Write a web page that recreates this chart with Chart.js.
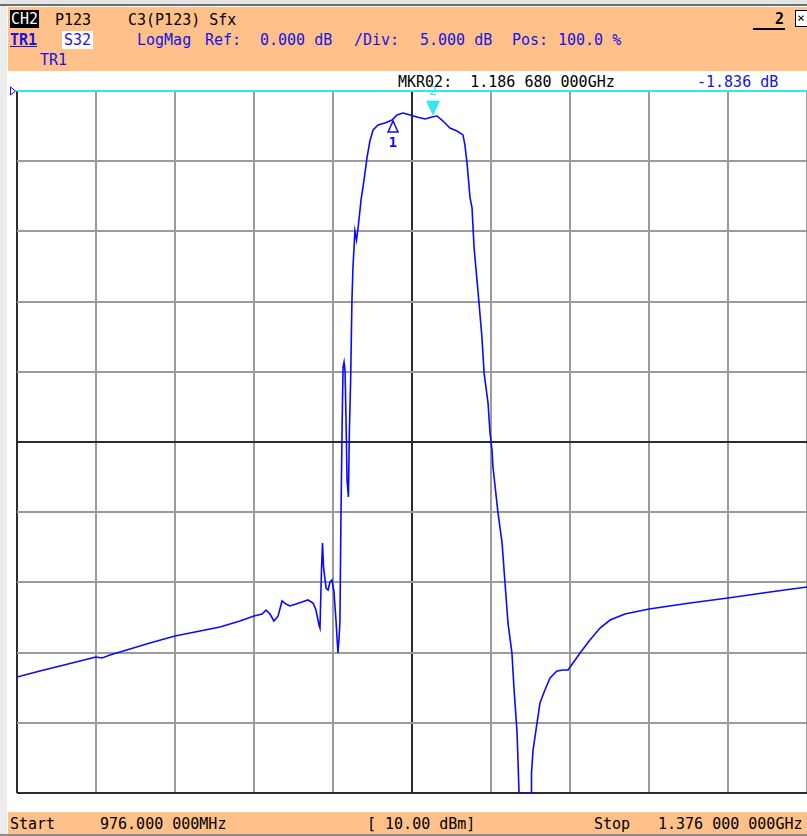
<!DOCTYPE html>
<html>
<head>
<meta charset="utf-8">
<script src="https://cdn.jsdelivr.net/npm/chart.js@4/dist/chart.umd.min.js"></script>
<style>
  html, body { margin: 0; padding: 0; background: #fff; }
  #screen { position: relative; width: 807px; height: 836px; overflow: hidden; background: #fff;
            font-family: "DejaVu Sans Mono", "Liberation Mono", monospace; font-size: 15px; }
  .band { position: absolute; background: #FFC08A; }
  .t { position: absolute; line-height: 18px; white-space: pre; }
  .blue { color: #1414E6; }
  .black { color: #000; }
  #chart { position: absolute; left: 0; top: 0; }
</style>
</head>
<body>
<div id="screen">
  <div style="position:absolute;left:0;top:0;width:807px;height:4px;background:#e6e6e6"></div>
  <div style="position:absolute;left:0;top:4px;width:807px;height:2px;background:#6e6e6e"></div>
  <div style="position:absolute;left:0;top:6px;width:7px;height:830px;background:#ececec"></div>
  <div class="band" style="left:8px;top:7px;width:799px;height:64px"></div>
  <div class="band" style="left:8px;top:812px;width:799px;height:22px"></div>
  <div style="position:absolute;left:0;top:834px;width:807px;height:2px;background:#8a8a8a"></div>

  <!-- header row 1 -->
  <div class="t" style="left:10px;top:10px;background:#000;color:#fff;padding:0 1px">CH2</div>
  <div class="t black" style="left:55px;top:11px">P123</div>
  <div class="t black" style="left:128px;top:11px">C3(P123) Sfx</div>
  <div class="t black" style="left:775px;top:10px;font-weight:bold">2</div>
  <div style="position:absolute;left:753px;top:28px;width:32px;height:2px;background:#000"></div>
  <div style="position:absolute;left:795px;top:10px;width:14px;height:17px;border:1px solid #000;box-sizing:border-box;background:#fff"></div>
  <div class="t black" style="left:797px;top:9px;font-size:13px">×</div>

  <!-- header row 2 -->
  <div class="t blue" style="left:10px;top:31px;font-weight:bold;text-decoration:underline">TR1</div>
  <div class="t blue" style="left:62px;top:31px;background:#fff;padding:0 2px">S32</div>
  <div class="t blue" style="left:137px;top:31px">LogMag</div>
  <div class="t blue" style="left:205px;top:31px">Ref:</div>
  <div class="t blue" style="left:260px;top:31px">0.000 dB</div>
  <div class="t blue" style="left:354px;top:31px">/Div:</div>
  <div class="t blue" style="left:420px;top:31px">5.000 dB</div>
  <div class="t blue" style="left:512px;top:31px">Pos:</div>
  <div class="t blue" style="left:558px;top:31px">100.0 %</div>
  <!-- header row 3 -->
  <div class="t blue" style="left:40px;top:51px">TR1</div>

  <!-- marker readout -->
  <div class="t black" style="left:398px;top:73px">MKR02:  1.186 680 000GHz</div>
  <div class="t blue" style="left:697px;top:73px">-1.836 dB</div>

  <!-- footer -->
  <div class="t black" style="left:10px;top:815px">Start</div>
  <div class="t black" style="left:100px;top:815px">976.000 000MHz</div>
  <div class="t black" style="left:367px;top:815px">[ 10.00 dBm]</div>
  <div class="t black" style="left:594px;top:815px">Stop</div>
  <div class="t black" style="left:658px;top:815px">1.376 000 000GHz</div>

  <canvas id="chart" width="807" height="836"></canvas>
</div>

<script>
// sweep: 976 MHz .. 1376 MHz, LogMag, 5 dB/div, ref 0 dB at top
const startMHz = 976;
const stopMHz = 1376;
const refDb = 0;
const bottomDb = -50;

// S32 trace (MHz, dB)
const freqMHz = [
  976.0, 987.6, 997.8, 1007.9, 1016.0, 1019.0, 1023.1, 1033.2, 1043.3, 1056.0,
  1068.7, 1078.8, 1088.9, 1096.0, 1100.1, 1102.1, 1104.1, 1106.1, 1108.2, 1110.2,
  1112.2, 1114.2, 1117.3, 1120.3, 1123.3, 1125.9, 1127.4, 1128.9, 1129.4, 1130.2,
  1130.7, 1131.2, 1132.5, 1133.5, 1134.5, 1135.5, 1136.5, 1137.5, 1138.5, 1139.0,
  1139.5, 1140.0, 1140.6, 1141.1, 1141.6, 1142.1, 1142.6, 1143.1, 1143.8, 1144.3,
  1144.9, 1145.6, 1146.1, 1147.1, 1147.9, 1148.7, 1150.2, 1151.7, 1153.2, 1154.7,
  1156.3, 1158.8, 1162.3, 1165.9, 1168.4, 1171.4, 1175.0, 1178.5, 1182.6, 1186.6,
  1188.7, 1191.7, 1195.2, 1198.8, 1201.8, 1202.8, 1203.8, 1205.4, 1206.4, 1207.4,
  1208.9, 1209.9, 1211.4, 1212.5, 1214.5, 1215.5, 1216.5, 1217.0, 1219.5, 1221.6,
  1223.1, 1224.6, 1226.6, 1227.6, 1229.2, 1230.2, 1236.3, 1236.5, 1237.3, 1239.3,
  1240.8, 1243.3, 1245.9, 1249.4, 1252.5, 1255.0, 1257.5, 1261.1, 1266.1, 1271.2,
  1276.3, 1283.8, 1296.0, 1316.8, 1336.0, 1357.3, 1376.0
];
const s32dB = [
  -41.74, -41.31, -40.95, -40.60, -40.31, -40.38, -40.17, -39.74, -39.32, -38.82,
  -38.46, -38.18, -37.75, -37.39, -37.25, -36.97, -37.25, -37.75, -37.39, -36.32,
  -36.54, -36.68, -36.54, -36.40, -36.25, -36.47, -36.97, -38.03, -38.25, -33.97,
  -32.19, -33.90, -35.40, -35.54, -34.97, -34.83, -35.68, -37.68, -40.03, -39.10,
  -37.82, -30.77, -23.93, -19.66, -19.30, -19.94, -23.43, -27.71, -28.92, -24.15,
  -20.80, -14.89, -12.61, -9.97, -10.61, -9.76, -7.76, -6.34, -4.77, -3.56,
  -2.78, -2.42, -2.28, -2.07, -1.71, -1.57, -1.71, -1.85, -1.99, -1.84,
  -1.78, -2.14, -2.64, -2.85, -3.13, -3.85, -5.06, -7.62, -8.33, -11.11,
  -13.46, -15.03, -17.52, -20.09, -22.22, -24.36, -25.57, -26.78, -29.99, -32.19,
  -35.04, -37.89, -40.03, -42.45, -45.73, -50.00, -50.00, -48.58, -46.94, -45.01,
  -43.59, -42.66, -41.81, -41.31, -41.24, -41.24, -40.74, -40.03, -39.10, -38.25,
  -37.68, -37.25, -36.89, -36.47, -36.11, -35.68, -35.33
];

// markers: [label, MHz, dB]
const markerNames = ['1', '2'];
const markerMHz = [1166.4, 1186.68];
const markerDb = [-2.07, -1.836];

const gridGray = '#9b9b9b';
const gridDark = '#2c2c2c';
const refCyan = '#33E6F0';
const traceBlue = '#0A0AFF';

const markerPlugin = {
  id: 'vnaMarkers',
  afterDatasetsDraw(chart) {
    const { ctx, scales } = chart;
    const xs = scales.x, ys = scales.y;
    ctx.save();
    // reference level arrow at the left edge
    const ry = ys.getPixelForValue(refDb);
    ctx.strokeStyle = traceBlue;
    ctx.lineWidth = 1;
    ctx.beginPath();
    ctx.moveTo(10.5, ry - 4);
    ctx.lineTo(15.5, ry);
    ctx.lineTo(10.5, ry + 4);
    ctx.closePath();
    ctx.stroke();

    // marker 1: outline triangle below trace
    let px = xs.getPixelForValue(markerMHz[0]);
    let py = ys.getPixelForValue(markerDb[0]);
    ctx.strokeStyle = traceBlue;
    ctx.fillStyle = '#fff';
    ctx.lineWidth = 1.5;
    ctx.beginPath();
    ctx.moveTo(px, py + 1);
    ctx.lineTo(px - 5, py + 12);
    ctx.lineTo(px + 5, py + 12);
    ctx.closePath();
    ctx.fill();
    ctx.stroke();
    ctx.fillStyle = traceBlue;
    ctx.font = 'bold 14px "DejaVu Sans Mono", monospace';
    ctx.textAlign = 'center';
    ctx.textBaseline = 'middle';
    ctx.fillText(markerNames[0], px, py + 23);

    // marker 2: active, filled cyan triangle above trace
    px = xs.getPixelForValue(markerMHz[1]);
    py = ys.getPixelForValue(markerDb[1]);
    ctx.fillStyle = refCyan;
    ctx.beginPath();
    ctx.moveTo(px, py - 1);
    ctx.lineTo(px - 7, py - 16);
    ctx.lineTo(px + 7, py - 16);
    ctx.closePath();
    ctx.fill();
    ctx.font = '13px "DejaVu Sans Mono", monospace';
    ctx.fillText(markerNames[1], px, py - 25);
    ctx.restore();
  }
};

new Chart(document.getElementById('chart'), {
  type: 'line',
  data: {
    datasets: [{
      label: 'S32',
      data: freqMHz.map((f, i) => ({ x: f, y: s32dB[i] })),
      borderColor: traceBlue,
      borderWidth: 1.6,
      pointRadius: 0,
      tension: 0,
      fill: false
    }]
  },
  options: {
    responsive: false,
    animation: false,
    devicePixelRatio: 1,
    layout: { padding: { left: 17, top: 91, right: 0, bottom: 43 } },
    plugins: { legend: { display: false }, tooltip: { enabled: false } },
    scales: {
      x: {
        type: 'linear',
        min: startMHz,
        max: stopMHz,
        ticks: { display: false, stepSize: 40 },
        border: { display: false },
        grid: {
          drawTicks: false,
          lineWidth: 2,
          color: (c) => (c.index === 0 || c.index === 5) ? gridDark : gridGray
        }
      },
      y: {
        min: bottomDb,
        max: refDb,
        ticks: { display: false, stepSize: 5 },
        border: { display: false },
        grid: {
          drawTicks: false,
          lineWidth: 2,
          color: (c) => c.index === 10 ? refCyan : (c.index === 0 || c.index === 5) ? gridDark : gridGray
        }
      }
    }
  },
  plugins: [markerPlugin]
});
</script>
</body>
</html>
